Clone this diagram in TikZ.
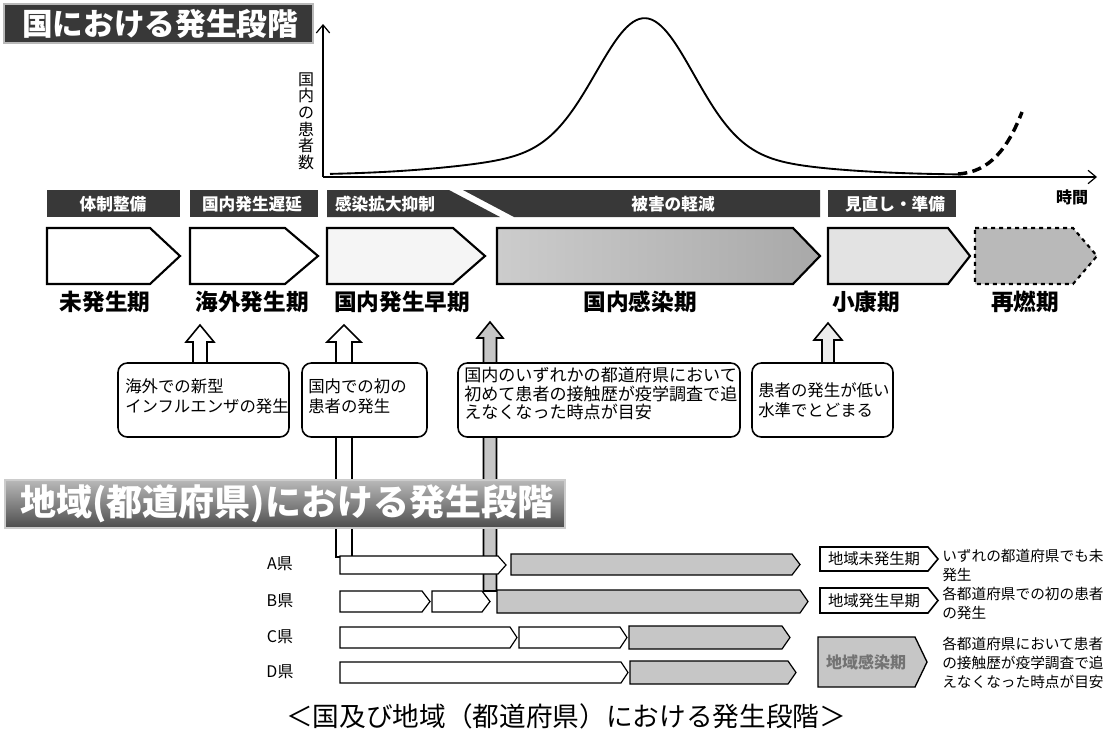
\documentclass[tikz,border=0pt]{standalone}
\usepackage{fontspec}
\newfontfamily\jp{Noto Sans CJK JP}
\usetikzlibrary{arrows.meta}
\newcommand\pentshape[6]{\path[#6] (#1,#4) -- (#2,#4) -- (#3,{(#4+#5)/2}) -- (#2,#5) -- (#1,#5) -- cycle;}
\newcommand\blockup[7]{\path[#7] ({#1-#5},#4) -- ({#1-#5},#3) -- ({#1-#6},#3) -- (#1,#2) -- ({#1+#6},#3) -- ({#1+#5},#3) -- ({#1+#5},#4) -- cycle;}
\begin{document}
\begin{tikzpicture}[x=0.75pt,y=-0.75pt,font=\jp,
  hdr/.style={fill=black!78},
  hdrtxt/.style={text=white,inner sep=0,font=\jp\bfseries\fontsize{12.5}{14}\selectfont},
  plabel/.style={inner sep=0,font=\jp\bfseries\fontsize{17}{20}\selectfont},
  bigpent/.style={draw=black,line width=1.6pt,line join=miter},
  rowpent/.style={draw=black,line width=0.9pt},
  boxtxt/.style={anchor=north west,align=left,inner sep=0,font=\jp\fontsize{12.3}{15}\selectfont},
  cbox/.style={draw=black,line width=1.2pt,fill=white,rounded corners=7pt},
  legtxt/.style={anchor=north west,align=left,inner sep=0,font=\jp\fontsize{11}{14}\selectfont},
  rowlab/.style={inner sep=0,font=\jp\fontsize{12}{14}\selectfont}]
\useasboundingbox (0,0) rectangle (1117,732);
\fill[white] (0,0) rectangle (1117,732);

% ---- title
\path[fill=black!78,draw=gray!55,line width=1.5pt] (4,4) rectangle (313,43);
\node[text=white,inner sep=0,font=\jp\bfseries\fontsize{23}{25}\selectfont] (ttl) at (160,24) {国における発生段階};

% ---- axes
\coordinate (O) at (323,177);
\coordinate (ytop) at (323,24);
\coordinate (xend) at (1097,177);
\draw[line width=0.9pt,-{Straight Barb[length=6pt,width=10pt]}] (O) -- (ytop);
\draw[line width=0.9pt,-{Straight Barb[length=6pt,width=10pt]}] (O) -- (xend);
\node[align=center,inner sep=0,font=\jp\fontsize{12}{12.5}\selectfont] (ylab) at (306,121) {国\\内\\の\\患\\者\\数};
\node[inner sep=0,font=\jp\bfseries\fontsize{12}{14}\selectfont] (tlab) at (1072,197) {時間};

% ---- curve
\draw[line width=1.4pt,line join=round] plot[domain=330:958,samples=200,smooth] (\x,{175-132*exp(-1*(((\x-645)/68)^2))-25*exp(-1*(((\x-630)/170)^2))});
\draw[line width=2.6pt,dash pattern=on 7pt off 4pt] (958,174) .. controls (990,172) and (1008,148) .. (1022,112);

% ---- header bars
\fill[hdr] (47,190) rectangle (180,217);
\node[hdrtxt] (h1) at (113,204) {体制整備};
\fill[hdr] (190,190) rectangle (318,217);
\node[hdrtxt] (h2) at (252,204) {国内発生遅延};
\fill[hdr] (327,190) -- (449,190) -- (500,217) -- (327,217) -- cycle;
\node[hdrtxt] (h3) at (385,204) {感染拡大抑制};
\fill[hdr] (463,190) -- (820,190) -- (820,217) -- (514,217) -- cycle;
\node[hdrtxt] (h4) at (673,204) {被害の軽減};
\fill[hdr] (828,190) rectangle (956,217);
\node[hdrtxt] (h5) at (895,204) {見直し・準備};

% ---- phase pentagons
\pentshape{47}{150}{180}{228}{284}{bigpent,fill=white}
\pentshape{190}{285}{318}{228}{284}{bigpent,fill=white}
\pentshape{327}{453}{485}{228}{284}{bigpent,fill=gray!8}
\pentshape{497}{793}{820}{228}{284}{bigpent,left color=gray!40,right color=gray!68}
\pentshape{828}{948}{970}{228}{284}{bigpent,fill=gray!22}
\pentshape{975}{1073}{1097}{228}{284}{bigpent,fill=gray!55,dashed}

\node[plabel] (p1) at (105,302) {未発生期};
\node[plabel] (p2) at (252,302) {海外発生期};
\node[plabel] (p3) at (402,302) {国内発生早期};
\node[plabel] (p4) at (640,302) {国内感染期};
\node[plabel] (p5) at (866,302) {小康期};
\node[plabel] (p6) at (1025,302) {再燃期};

% ---- block arrows
\blockup{200}{325}{342}{366}{7}{14}{draw=black,line width=1.2pt,fill=white}
\blockup{344}{325}{342}{557}{8}{17}{draw=black,line width=1.2pt,fill=white}
\blockup{490}{322}{338}{591}{6.5}{13}{draw=black,line width=1.2pt,fill=gray!45}
\blockup{828}{323}{340}{366}{6}{14}{draw=black,line width=1.2pt,fill=gray!15}

% ---- callout boxes
\path[cbox] (118,363) rectangle (289,437);
\node[boxtxt] (b1) at (125,378) {海外での新型\\インフルエンザの発生};
\path[cbox] (302,363) rectangle (427,437);
\node[boxtxt] (b2) at (308,378) {国内での初の\\患者の発生};
\path[cbox] (458,363) rectangle (740,437);
\node[boxtxt,font=\jp\fontsize{12.8}{14}\selectfont] (b3) at (464,367) {国内のいずれかの都道府県において\\初めて患者の接触歴が疫学調査で追\\えなくなった時点が目安};
\path[cbox] (752,363) rectangle (893,437);
\node[boxtxt] (b4) at (758,382) {患者の発生が低い\\水準でとどまる};

% ---- region title bar
\path[top color=gray!55,bottom color=black!70,draw=gray!40,line width=1pt] (5,480) rectangle (565,528);
\node[text=white,inner sep=0,font=\jp\bfseries\fontsize{27}{29}\selectfont] (rt) at (287,504) {地域(都道府県)における発生段階};

% ---- prefecture rows
\node[rowlab] (la) at (280,564) {A県};
\node[rowlab] (lb) at (280,601) {B県};
\node[rowlab] (lc) at (280,637) {C県};
\node[rowlab] (ld) at (280,672) {D県};

\pentshape{340}{498}{506}{556}{574}{rowpent,fill=white}
\pentshape{511}{792}{800}{554}{575}{rowpent,fill=gray!45}

\pentshape{340}{422}{430}{591}{612}{rowpent,fill=white}
\pentshape{432}{482}{490}{591}{612}{rowpent,fill=white}
\pentshape{497}{800}{808}{590}{613}{rowpent,fill=gray!45}

\pentshape{340}{510}{517}{627}{648}{rowpent,fill=white}
\pentshape{519}{620}{627}{627}{648}{rowpent,fill=white}
\pentshape{629}{782}{790}{626}{649}{rowpent,fill=gray!45}

\pentshape{340}{621}{628}{662}{683}{rowpent,fill=white}
\pentshape{630}{788}{796}{661}{684}{rowpent,fill=gray!45}

% ---- legend
\pentshape{820}{928}{938}{547}{571}{rowpent,line width=1.2pt,fill=white}
\node[inner sep=0,font=\jp\fontsize{11.5}{13}\selectfont] (l1) at (874,559) {地域未発生期};
\node[legtxt] (t1) at (942,549) {いずれの都道府県でも未\\発生};
\pentshape{820}{928}{938}{588}{613}{rowpent,line width=1.2pt,fill=white}
\node[inner sep=0,font=\jp\fontsize{11.5}{13}\selectfont] (l2) at (874,601) {地域発生早期};
\node[legtxt] (t2) at (942,587) {各都道府県での初の患者\\の発生};
\pentshape{818}{915}{927}{637}{687}{rowpent,line width=1pt,fill=gray!45}
\node[inner sep=0,text=black!55,font=\jp\bfseries\fontsize{12}{13}\selectfont] (l3) at (866,662) {地域感染期};
\node[legtxt] (t3) at (942,637) {各都道府県において患者\\の接触歴が疫学調査で追\\えなくなった時点が目安};

% ---- caption
\node[inner sep=0,font=\jp\fontsize{20}{22}\selectfont] (cap) at (566,716) {＜国及び地域（都道府県）における発生段階＞};
\end{tikzpicture}
\end{document}
